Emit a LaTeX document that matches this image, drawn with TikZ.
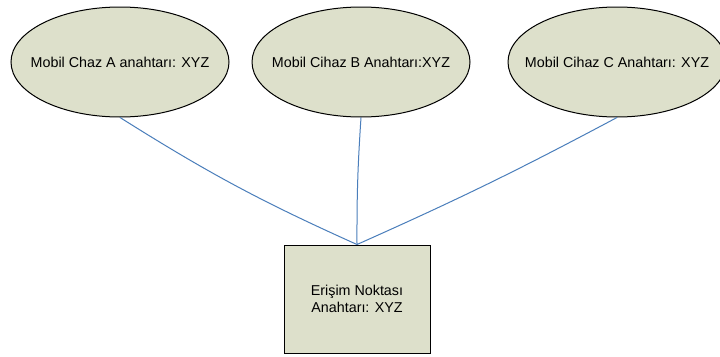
\documentclass[tikz,border=0pt]{standalone}
\usepackage{fontspec}
\setmainfont{Liberation Sans}
\usetikzlibrary{shapes.geometric}
\definecolor{keyfill}{RGB}{221,224,203}
\definecolor{linkblue}{RGB}{74,126,187}
\newcommand{\zerowide}[1]{\makebox[0pt]{#1}}
\tikzset{
  device/.style={ellipse, draw=black, line width=1pt, fill=keyfill,
    minimum width=218pt, minimum height=110pt, inner sep=0pt,
    font=\fontsize{14.3}{17}\selectfont},
  accesspt/.style={rectangle, draw=black, line width=1pt, fill=keyfill,
    minimum width=146pt, minimum height=108pt, inner sep=0pt,
    align=center, font=\fontsize{14.3}{17}\selectfont},
  link/.style={draw=linkblue, line width=1pt}
}
\begin{document}
\begin{tikzpicture}[x=1pt,y=-1pt]
  \useasboundingbox (0,0) rectangle (720,356);
  \clip (0,0) rectangle (720,356);
  \fill[white] (0,0) rectangle (720,356);
  % three mobile devices
  \node[device] (a) at (120,62) {\zerowide{Mobil Chaz A anahtarı: XYZ}};
  \node[device] (b) at (361,62) {\zerowide{Mobil Cihaz B Anahtarı:XYZ}};
  \node[device] (c) at (617,62) {\zerowide{Mobil Cihaz C Anahtarı: XYZ}};
  % access point
  \node[accesspt] (ap) at (357,299) {Erişim Noktası\\Anahtarı: XYZ};
  % links
  \draw[link] (a.south) to[bend right=4] (ap.north);
  \draw[link] (b.south) to[bend right=2] (ap.north);
  \draw[link] (c.south) to[bend left=2] (ap.north);
\end{tikzpicture}
\end{document}
